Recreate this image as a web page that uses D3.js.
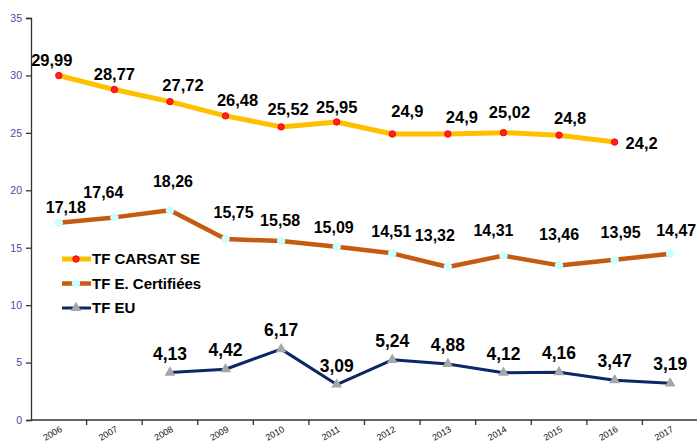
<!DOCTYPE html>
<html>
<head>
<meta charset="utf-8">
<script src="https://cdn.jsdelivr.net/npm/d3@7"></script>
<style>
  html, body { margin: 0; padding: 0; background: #fff; }
  svg { display: block; font-family: "Liberation Sans", Arial, sans-serif; }
</style>
</head>
<body>
<svg id="chart" width="697" height="443"></svg>
<script>
// data
var years = ['2006', '2007', '2008', '2009', '2010', '2011', '2012', '2013', '2014', '2015', '2016', '2017'];
var yTicks = [0, 5, 10, 15, 20, 25, 30, 35];

var carsatYears = ['2006', '2007', '2008', '2009', '2010', '2011', '2012', '2013', '2014', '2015', '2016'];
var carsatValues = [29.99, 28.77, 27.72, 26.48, 25.52, 25.95, 24.9, 24.9, 25.02, 24.8, 24.2];

var certifYears = years;
var certifValues = [17.18, 17.64, 18.26, 15.75, 15.58, 15.09, 14.51, 13.32, 14.31, 13.46, 13.95, 14.47];

var euYears = ['2008', '2009', '2010', '2011', '2012', '2013', '2014', '2015', '2016', '2017'];
var euValues = [4.13, 4.42, 6.17, 3.09, 5.24, 4.88, 4.12, 4.16, 3.47, 3.19];

// label nudges (px), as placed in the original
var carsatNudge = [[-7, -15], [0, -15], [13, -16], [12, -16], [7, -18], [0, -15], [15, -23], [14, -17], [6, -20], [11, -17], [27, 1]];
var certifNudge = [[7, -15], [-11, -25], [3, -29], [8, -27], [-1, -21], [-3, -19], [-1, -22], [-13, -32], [-10, -25], [0, -31], [6, -27], [6, -23]];
var euNudge = euValues.map(function() { return [0, -19]; });

var svg = d3.select('#chart');

var x = d3.scaleBand().domain(years).range([31, 698]);
var y = d3.scaleLinear().domain([0, 35]).range([420, 18]);

function fmt(v) { return String(v).replace('.', ','); }

// y axis
var yAxis = svg.append('g')
  .attr('transform', 'translate(31,0)')
  .call(d3.axisLeft(y).tickValues(yTicks).tickSize(5).tickPadding(4));
yAxis.select('.domain').attr('stroke', '#333').attr('stroke-width', 1.3);
yAxis.selectAll('.tick line').attr('stroke', '#333').attr('stroke-width', 1.3);
yAxis.selectAll('.tick text')
  .attr('fill', '#4a4aa8')
  .style('font-size', '10.5px')
  .style('font-family', '"Liberation Sans", Arial, sans-serif');

// x axis
var xg = svg.append('g');
xg.append('line')
  .attr('x1', 31).attr('x2', 697)
  .attr('y1', y(0)).attr('y2', y(0))
  .attr('stroke', '#333').attr('stroke-width', 1.3);
xg.selectAll('.xtick')
  .data(years.slice(1).concat(['end']))
  .enter().append('line')
  .attr('x1', function(d, i) { return x(years[0]) + x.step() * (i + 1); })
  .attr('x2', function(d, i) { return x(years[0]) + x.step() * (i + 1); })
  .attr('y1', y(0)).attr('y2', y(0) + 5)
  .attr('stroke', '#333').attr('stroke-width', 1.3);
xg.selectAll('.xlab')
  .data(years)
  .enter().append('text')
  .attr('text-anchor', 'end')
  .attr('transform', function(d) {
    return 'translate(' + (x(d) + x.bandwidth() / 2 + 4) + ',' + (y(0) + 11) + ') rotate(-30)';
  })
  .style('font-size', '9px')
  .attr('fill', '#111')
  .text(function(d) { return d; });

var cx = function(d) { return x(d.year) + x.bandwidth() / 2; };
var cy = function(d) { return y(d.value); };

function rows(ys, vs) {
  return ys.map(function(yr, i) { return { year: yr, value: vs[i] }; });
}

var line = d3.line().x(cx).y(cy);

var series = [
  { name: 'TF CARSAT SE', data: rows(carsatYears, carsatValues), color: '#ffc000', width: 5, marker: 'dot', nudge: carsatNudge, font: 16.5 },
  { name: 'TF E. Certifiées', data: rows(certifYears, certifValues), color: '#c55a11', width: 4.5, marker: 'cyan', nudge: certifNudge, font: 16 },
  { name: 'TF EU', data: rows(euYears, euValues), color: '#0c2766', width: 3, marker: 'tri', nudge: euNudge, font: 17.5 }
];

function drawMarker(sel, type) {
  if (type === 'dot') {
    sel.append('circle').attr('r', 3.2).attr('fill', '#ff2020').attr('stroke', '#ff0000').attr('stroke-width', 1);
  } else if (type === 'cyan') {
    sel.append('circle').attr('r', 4.2).attr('fill', '#ccffff');
  } else {
    sel.append('path').attr('d', d3.symbol().type(d3.symbolTriangle).size(50)()).attr('fill', '#a6a6a6');
  }
}

series.forEach(function(s) {
  var g = svg.append('g');
  g.append('path')
    .datum(s.data)
    .attr('d', line)
    .attr('fill', 'none')
    .attr('stroke', s.color)
    .attr('stroke-width', s.width)
    .attr('stroke-linejoin', 'round');

  var m = g.selectAll('.m').data(s.data).enter().append('g')
    .attr('transform', function(d) { return 'translate(' + cx(d) + ',' + cy(d) + ')'; });
  drawMarker(m, s.marker);

  g.selectAll('.lab').data(s.data).enter().append('text')
    .attr('x', function(d, i) { return cx(d) + s.nudge[i][0]; })
    .attr('y', function(d, i) { return cy(d) + s.nudge[i][1]; })
    .attr('dy', '0.35em')
    .attr('text-anchor', 'middle')
    .style('font-size', s.font + 'px')
    .style('font-weight', 'bold')
    .attr('fill', '#000')
    .text(function(d) { return fmt(d.value); });
});

// legend
var legend = svg.append('g');
series.forEach(function(s, i) {
  var ly = 259 + i * 24.5;
  legend.append('line')
    .attr('x1', 62).attr('x2', 91)
    .attr('y1', ly).attr('y2', ly)
    .attr('stroke', s.color).attr('stroke-width', s.width);
  drawMarker(legend.append('g').attr('transform', 'translate(76,' + ly + ')'), s.marker);
  legend.append('text')
    .attr('x', 92).attr('y', ly).attr('dy', '0.36em')
    .style('font-size', '15px')
    .style('font-weight', 'bold')
    .text(s.name);
});
</script>
</body>
</html>
